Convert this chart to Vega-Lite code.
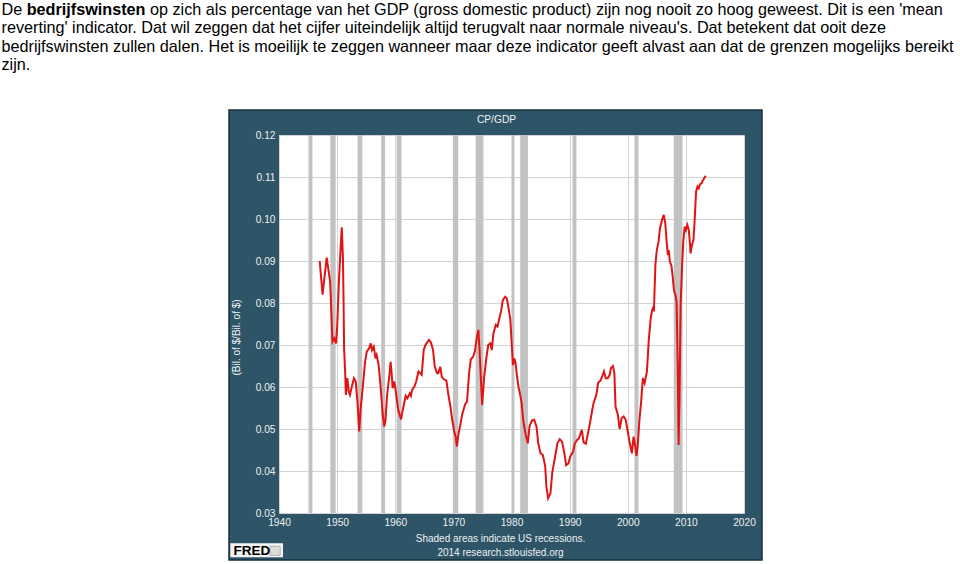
{
  "$schema": "https://vega.github.io/schema/vega-lite/v6.json",
  "width": 465,
  "height": 378,
  "autosize": {"type": "none"},
  "padding": {"left": 279, "top": 135, "right": 216, "bottom": 51},
  "background": "#2d5467",
  "view": {"fill": "white", "stroke": null},
  "config": {
    "font": "Liberation Sans",
    "axis": {
      "grid": true, "gridColor": "#d2d2d2", "gridWidth": 1,
      "domain": false, "ticks": false, "tickSize": 0,
      "labelColor": "#f0f0f0", "labelFont": "Liberation Sans",
      "labelFontSize": 10.2, "labelPadding": 4, "labelFlush": false, "labelOverlap": false,
      "titleFont": "Liberation Sans",
      "titleFontSize": 10, "titleFontWeight": "normal", "titleColor": "#f0f0f0"
    }
  },
  "datasets": {
    "rec": [
      {"start": 1945.08, "end": 1945.75},
      {"start": 1948.83, "end": 1949.75},
      {"start": 1953.5, "end": 1954.33},
      {"start": 1957.58, "end": 1958.25},
      {"start": 1960.25, "end": 1961.08},
      {"start": 1969.92, "end": 1970.83},
      {"start": 1973.83, "end": 1975.17},
      {"start": 1980.0, "end": 1980.5},
      {"start": 1981.5, "end": 1982.83},
      {"start": 1990.5, "end": 1991.17},
      {"start": 2001.17, "end": 2001.83},
      {"start": 2007.92, "end": 2009.42}
    ],
    "cp": [
      {"year":1947.0,"value":0.090},{"year":1947.5,"value":0.082},{"year":1948.2,"value":0.0908},{"year":1948.8,"value":0.0851},{"year":1949.2,"value":0.0708},{"year":1949.5,"value":0.0716},{"year":1949.8,"value":0.0704},{"year":1950.0,"value":0.074},{"year":1950.3,"value":0.085},{"year":1950.6,"value":0.093},{"year":1950.8,"value":0.098},{"year":1951.0,"value":0.0907},{"year":1951.1,"value":0.0811},{"year":1951.2,"value":0.0692},{"year":1951.4,"value":0.0629},{"year":1951.5,"value":0.0581},{"year":1951.75,"value":0.0621},{"year":1952.0,"value":0.0589},{"year":1952.2,"value":0.0581},{"year":1952.6,"value":0.0605},{"year":1952.9,"value":0.0621},{"year":1953.2,"value":0.0613},{"year":1953.5,"value":0.0565},{"year":1953.8,"value":0.0494},{"year":1954.05,"value":0.0549},{"year":1954.4,"value":0.0597},{"year":1954.8,"value":0.066},{"year":1955.1,"value":0.0684},{"year":1955.5,"value":0.0692},{"year":1955.8,"value":0.0704},{"year":1956.0,"value":0.0688},{"year":1956.3,"value":0.0696},{"year":1956.6,"value":0.0668},{"year":1956.8,"value":0.0676},{"year":1957.15,"value":0.0652},{"year":1957.5,"value":0.0597},{"year":1957.85,"value":0.0534},{"year":1958.1,"value":0.0506},{"year":1958.3,"value":0.0518},{"year":1958.6,"value":0.0581},{"year":1959.0,"value":0.0629},{"year":1959.2,"value":0.066},{"year":1959.4,"value":0.0629},{"year":1959.55,"value":0.0597},{"year":1959.8,"value":0.0613},{"year":1960.0,"value":0.060},{"year":1960.5,"value":0.0546},{"year":1961.0,"value":0.0523},{"year":1961.3,"value":0.0546},{"year":1961.8,"value":0.0579},{"year":1962.1,"value":0.0573},{"year":1962.5,"value":0.0585},{"year":1962.7,"value":0.0579},{"year":1962.9,"value":0.0593},{"year":1963.3,"value":0.0601},{"year":1963.6,"value":0.0613},{"year":1964.0,"value":0.0637},{"year":1964.3,"value":0.0633},{"year":1964.55,"value":0.0629},{"year":1964.9,"value":0.0688},{"year":1965.2,"value":0.07},{"year":1965.6,"value":0.0708},{"year":1965.8,"value":0.0712},{"year":1966.15,"value":0.0706},{"year":1966.5,"value":0.0688},{"year":1966.8,"value":0.0648},{"year":1967.2,"value":0.0633},{"year":1967.4,"value":0.0633},{"year":1967.75,"value":0.0648},{"year":1968.0,"value":0.0625},{"year":1968.3,"value":0.0619},{"year":1968.8,"value":0.0615},{"year":1969.1,"value":0.0585},{"year":1969.5,"value":0.0553},{"year":1969.8,"value":0.0522},{"year":1970.2,"value":0.049},{"year":1970.4,"value":0.0482},{"year":1970.6,"value":0.0458},{"year":1970.85,"value":0.0486},{"year":1971.2,"value":0.051},{"year":1971.5,"value":0.0534},{"year":1971.9,"value":0.0553},{"year":1972.1,"value":0.0561},{"year":1972.35,"value":0.0565},{"year":1972.7,"value":0.0633},{"year":1973.0,"value":0.0666},{"year":1973.4,"value":0.0672},{"year":1973.7,"value":0.0685},{"year":1974.05,"value":0.072},{"year":1974.3,"value":0.0736},{"year":1974.5,"value":0.069},{"year":1974.7,"value":0.063},{"year":1974.95,"value":0.0557},{"year":1975.3,"value":0.0625},{"year":1975.7,"value":0.0672},{"year":1976.0,"value":0.07},{"year":1976.35,"value":0.0704},{"year":1976.6,"value":0.0688},{"year":1976.9,"value":0.0728},{"year":1977.3,"value":0.0748},{"year":1977.6,"value":0.0744},{"year":1977.85,"value":0.076},{"year":1978.2,"value":0.078},{"year":1978.5,"value":0.0807},{"year":1978.9,"value":0.0815},{"year":1979.2,"value":0.0811},{"year":1979.45,"value":0.0791},{"year":1979.8,"value":0.076},{"year":1980.0,"value":0.0712},{"year":1980.25,"value":0.0652},{"year":1980.5,"value":0.0668},{"year":1980.7,"value":0.0657},{"year":1980.95,"value":0.0625},{"year":1981.2,"value":0.0601},{"year":1981.5,"value":0.0581},{"year":1981.75,"value":0.0561},{"year":1982.0,"value":0.0522},{"year":1982.2,"value":0.0506},{"year":1982.45,"value":0.0486},{"year":1982.8,"value":0.0466},{"year":1983.1,"value":0.0506},{"year":1983.5,"value":0.052},{"year":1983.9,"value":0.0522},{"year":1984.3,"value":0.0506},{"year":1984.6,"value":0.0466},{"year":1985.0,"value":0.0442},{"year":1985.4,"value":0.0438},{"year":1985.8,"value":0.0411},{"year":1986.0,"value":0.0363},{"year":1986.3,"value":0.0335},{"year":1986.7,"value":0.0347},{"year":1987.0,"value":0.0395},{"year":1987.5,"value":0.0434},{"year":1987.9,"value":0.0466},{"year":1988.3,"value":0.0476},{"year":1988.7,"value":0.047},{"year":1989.1,"value":0.0442},{"year":1989.4,"value":0.0414},{"year":1989.8,"value":0.0418},{"year":1990.1,"value":0.0434},{"year":1990.6,"value":0.0446},{"year":1990.9,"value":0.0466},{"year":1991.3,"value":0.0474},{"year":1991.6,"value":0.0478},{"year":1992.1,"value":0.0498},{"year":1992.4,"value":0.0468},{"year":1992.8,"value":0.0465},{"year":1993.1,"value":0.0486},{"year":1993.45,"value":0.051},{"year":1993.8,"value":0.0538},{"year":1994.1,"value":0.0561},{"year":1994.5,"value":0.0577},{"year":1994.7,"value":0.0589},{"year":1994.9,"value":0.061},{"year":1995.3,"value":0.0615},{"year":1995.6,"value":0.0625},{"year":1995.9,"value":0.0637},{"year":1996.2,"value":0.0621},{"year":1996.55,"value":0.0621},{"year":1996.9,"value":0.0629},{"year":1997.1,"value":0.0645},{"year":1997.45,"value":0.065},{"year":1997.7,"value":0.0633},{"year":1997.9,"value":0.0553},{"year":1998.3,"value":0.0534},{"year":1998.6,"value":0.05},{"year":1998.95,"value":0.0526},{"year":1999.3,"value":0.053},{"year":1999.65,"value":0.0522},{"year":2000.0,"value":0.0494},{"year":2000.3,"value":0.047},{"year":2000.7,"value":0.0442},{"year":2001.0,"value":0.0482},{"year":2001.25,"value":0.0462},{"year":2001.5,"value":0.0436},{"year":2001.7,"value":0.0458},{"year":2002.0,"value":0.052},{"year":2002.3,"value":0.0565},{"year":2002.6,"value":0.0621},{"year":2002.9,"value":0.0609},{"year":2003.3,"value":0.0637},{"year":2003.6,"value":0.0708},{"year":2003.95,"value":0.0764},{"year":2004.2,"value":0.0783},{"year":2004.4,"value":0.0791},{"year":2004.5,"value":0.078},{"year":2004.75,"value":0.089},{"year":2005.0,"value":0.0926},{"year":2005.3,"value":0.0946},{"year":2005.55,"value":0.0978},{"year":2005.9,"value":0.0998},{"year":2006.2,"value":0.101},{"year":2006.45,"value":0.099},{"year":2006.7,"value":0.0946},{"year":2006.9,"value":0.0914},{"year":2007.05,"value":0.0926},{"year":2007.25,"value":0.0898},{"year":2007.5,"value":0.089},{"year":2007.7,"value":0.0867},{"year":2007.95,"value":0.0831},{"year":2008.2,"value":0.0819},{"year":2008.4,"value":0.0803},{"year":2008.6,"value":0.0652},{"year":2008.75,"value":0.0462},{"year":2008.9,"value":0.0573},{"year":2009.1,"value":0.0795},{"year":2009.35,"value":0.089},{"year":2009.55,"value":0.0946},{"year":2009.8,"value":0.0982},{"year":2010.0,"value":0.0974},{"year":2010.25,"value":0.0986},{"year":2010.5,"value":0.0974},{"year":2010.7,"value":0.0942},{"year":2010.8,"value":0.0918},{"year":2011.05,"value":0.0938},{"year":2011.3,"value":0.095},{"year":2011.5,"value":0.0994},{"year":2011.75,"value":0.1065},{"year":2012.0,"value":0.1077},{"year":2012.2,"value":0.1073},{"year":2012.45,"value":0.1083},{"year":2012.7,"value":0.1085},{"year":2012.9,"value":0.1091},{"year":2013.15,"value":0.1097},{"year":2013.4,"value":0.1103}
    ]
  },
  "layer": [
    {
      "data": {"name": "rec"},
      "mark": {"type": "rect", "color": "#c2c2c2"},
      "encoding": {
        "x": {"field": "start", "type": "quantitative", "scale": {"domain": [1940, 2020], "nice": false, "zero": false}},
        "x2": {"field": "end"}
      }
    },
    {
      "data": {"name": "cp"},
      "mark": {"type": "line", "color": "#e01414", "strokeWidth": 2},
      "encoding": {
        "x": {
          "field": "year", "type": "quantitative",
          "scale": {"domain": [1940, 2020], "nice": false, "zero": false},
          "axis": {
            "values": [1940, 1950, 1960, 1970, 1980, 1990, 2000, 2010, 2020],
            "format": "d",
            "title": ["Shaded areas indicate US recessions.", "2014 research.stlouisfed.org"],
            "titleX": 221, "titleY": 28.7, "titleAlign": "center", "titleBaseline": "alphabetic", "titleLineHeight": 13.5
          }
        },
        "y": {
          "field": "value", "type": "quantitative",
          "scale": {"domain": [0.03, 0.12], "nice": false, "zero": false},
          "axis": {
            "values": [0.03, 0.04, 0.05, 0.06, 0.07, 0.08, 0.09, 0.10, 0.11, 0.12],
            "format": ".2f",
            "title": "(Bil. of $/Bil. of $)",
            "titleX": -42.5, "titleY": 202, "titleAngle": -90, "titleAlign": "center", "titleBaseline": "middle"
          }
        }
      }
    },
    {
      "data": {"values": [{}]},
      "mark": {"type": "rect", "color": "white", "clip": false},
      "encoding": {
        "x": {"datum": 1891, "type": "quantitative", "scale": {"domain": [1940, 2020], "nice": false, "zero": false}},
        "x2": {"datum": 2060},
        "y": {"datum": 0.125952, "type": "quantitative", "scale": {"domain": [0.03, 0.12], "nice": false, "zero": false}},
        "y2": {"datum": 0.156}
      }
    },
    {
      "data": {"values": [{}]},
      "mark": {"type": "rect", "color": "white", "clip": false},
      "encoding": {
        "x": {"datum": 1891, "type": "quantitative"},
        "x2": {"datum": 1931.398},
        "y": {"datum": 0.015, "type": "quantitative"},
        "y2": {"datum": 0.125952}
      }
    },
    {
      "data": {"values": [{}]},
      "mark": {"type": "rect", "color": "white", "clip": false},
      "encoding": {
        "x": {"datum": 2023.097, "type": "quantitative"},
        "x2": {"datum": 2060},
        "y": {"datum": 0.015, "type": "quantitative"},
        "y2": {"datum": 0.125952}
      }
    },
    {
      "data": {"values": [{}]},
      "mark": {"type": "rect", "color": "white", "clip": false},
      "encoding": {
        "x": {"datum": 1931.398, "type": "quantitative"},
        "x2": {"datum": 2023.097},
        "y": {"datum": 0.015, "type": "quantitative"},
        "y2": {"datum": 0.01881}
      }
    },
    {
      "data": {"values": [{}]},
      "mark": {"type": "rect", "fill": null, "stroke": "#17303c", "strokeWidth": 1.5, "clip": false},
      "encoding": {
        "x": {"datum": 1931.398, "type": "quantitative"},
        "x2": {"datum": 2023.097},
        "y": {"datum": 0.01881, "type": "quantitative"},
        "y2": {"datum": 0.125952}
      }
    },
    {
      "data": {"values": [{}]},
      "mark": {"type": "rect", "color": "#f4f4f4", "clip": false},
      "encoding": {
        "x": {"datum": 1931.62, "type": "quantitative"},
        "x2": {"datum": 1940.69},
        "y": {"datum": 0.01945, "type": "quantitative"},
        "y2": {"datum": 0.022783}
      }
    },
    {
      "data": {"values": [{}]},
      "mark": {"type": "rect", "fill": "#dcdcdc", "stroke": "#a8a8a8", "strokeWidth": 0.8, "clip": false},
      "encoding": {
        "x": {"datum": 1938.45, "type": "quantitative"},
        "x2": {"datum": 1940.2},
        "y": {"datum": 0.0199, "type": "quantitative"},
        "y2": {"datum": 0.0221}
      }
    },
    {
      "data": {"values": [{}]},
      "mark": {"type": "text", "text": "FRED", "font": "Liberation Sans", "fontWeight": "bold", "fontSize": 13.5, "fill": "#000000", "align": "left", "baseline": "alphabetic", "clip": false},
      "encoding": {
        "x": {"datum": 1932.17, "type": "quantitative"},
        "y": {"datum": 0.02, "type": "quantitative"}
      }
    },
    {
      "data": {"values": [{}]},
      "mark": {"type": "text", "text": "CP/GDP", "font": "Liberation Sans", "fontSize": 10.2, "fill": "#f0f0f0", "align": "center", "baseline": "alphabetic", "clip": false},
      "encoding": {
        "x": {"datum": 1977.42, "type": "quantitative"},
        "y": {"datum": 0.122857, "type": "quantitative"}
      }
    },
    {
      "data": {"values": [{}]},
      "mark": {"type": "text", "text": "De", "font": "Liberation Sans", "fontSize": 16.2, "fill": "#000000", "align": "left", "baseline": "alphabetic", "clip": false},
      "encoding": {
        "x": {"datum": 1892.258, "type": "quantitative"},
        "y": {"datum": 0.148619, "type": "quantitative"}
      }
    },
    {
      "data": {"values": [{}]},
      "mark": {"type": "text", "text": "bedrijfswinsten", "font": "Liberation Sans", "fontWeight": "bold", "fontSize": 16.2, "fill": "#000000", "align": "left", "baseline": "alphabetic", "clip": false},
      "encoding": {
        "x": {"datum": 1896.594, "type": "quantitative"},
        "y": {"datum": 0.148619, "type": "quantitative"}
      }
    },
    {
      "data": {"values": [{}]},
      "mark": {"type": "text", "text": "op zich als percentage van het GDP (gross domestic product) zijn nog nooit zo hoog geweest. Dit is een 'mean", "font": "Liberation Sans", "fontSize": 16.2, "fill": "#000000", "align": "left", "baseline": "alphabetic", "clip": false},
      "encoding": {
        "x": {"datum": 1917.806, "type": "quantitative"},
        "y": {"datum": 0.148619, "type": "quantitative"}
      }
    },
    {
      "data": {"values": [{}]},
      "mark": {"type": "text", "text": ["reverting' indicator. Dat wil zeggen dat het cijfer uiteindelijk altijd terugvalt naar normale niveau's. Dat betekent dat ooit deze", "bedrijfswinsten zullen dalen. Het is moeilijk te zeggen wanneer maar deze indicator geeft alvast aan dat de grenzen mogelijks bereikt", "zijn."], "lineHeight": 18.35, "font": "Liberation Sans", "fontSize": 16.2, "fill": "#000000", "align": "left", "baseline": "alphabetic", "clip": false},
      "encoding": {
        "x": {"datum": 1892.258, "type": "quantitative"},
        "y": {"datum": 0.144238, "type": "quantitative"}
      }
    }
  ]
}
